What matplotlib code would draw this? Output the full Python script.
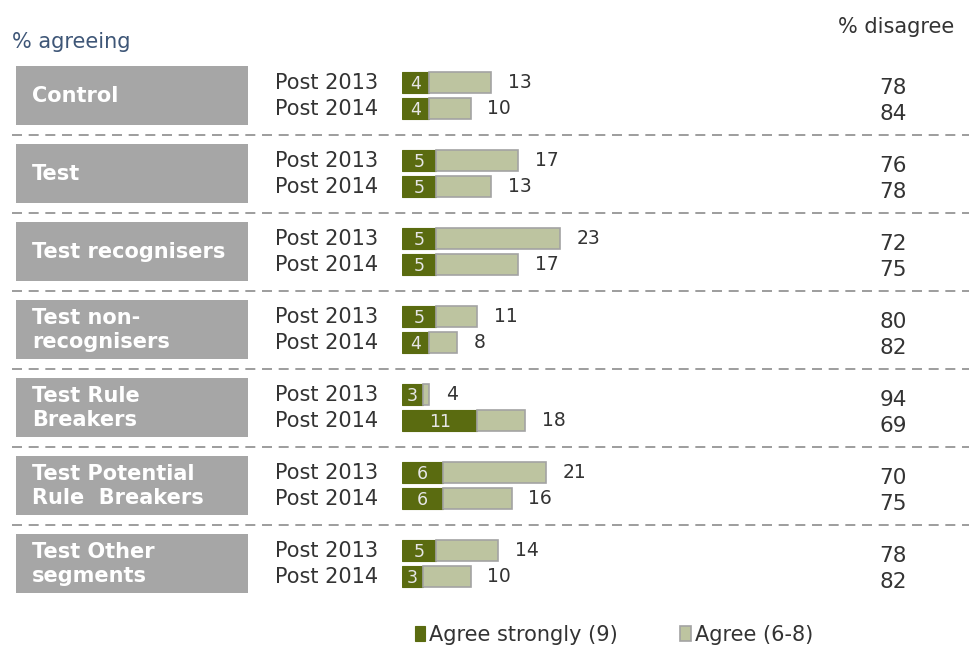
import numpy as np
import matplotlib.pyplot as plt
from matplotlib import transforms
from matplotlib.patches import Rectangle

segments = ['Control', 'Test', 'Test recognisers', 'Test non-\nrecognisers',
            'Test Rule\nBreakers', 'Test Potential\nRule  Breakers', 'Test Other\nsegments']
waves = ['Post 2013', 'Post 2014']

strongly_2013 = [4, 5, 5, 5, 3, 6, 5]
strongly_2014 = [4, 5, 5, 4, 11, 6, 3]
agreeing_2013 = [13, 17, 23, 11, 4, 21, 14]
agreeing_2014 = [10, 13, 17, 8, 18, 16, 10]
disagree_2013 = [78, 76, 72, 80, 94, 70, 78]
disagree_2014 = [84, 78, 75, 82, 69, 75, 82]

dark = '#5a6b10'
light = '#bdc4a0'
edge = '#a3a3a3'
text_col = '#333333'

W, H = 970, 645
fig = plt.figure(figsize=(W / 100, H / 100), dpi=100)

# background axes in pixel units for the furniture
bg = fig.add_axes([0, 0, 1, 1])
bg.set_xlim(0, W)
bg.set_ylim(H, 0)
bg.axis('off')

# bar axes: x = percent, y = row position (3 rows per segment)
px_per_pct = 6.85
x0 = 402
ax = fig.add_axes([x0 / W, 0, 300 / W, 1])
ax.set_xlim(0, 300 / px_per_pct)
row_px = 26
ax.set_ylim((H - 82.5) / row_px, -82.5 / row_px)
ax.axis('off')
ax.patch.set_alpha(0)

n = len(segments)
pos13 = np.arange(n) * 3
pos14 = pos13 + 1
pos = np.concatenate([pos13, pos14])
strong = np.array(strongly_2013 + strongly_2014)
agree = np.array(agreeing_2013 + agreeing_2014)
disagree = disagree_2013 + disagree_2014

bh = 0.78
b1 = ax.barh(pos, strong, height=bh, color=dark, edgecolor=dark, linewidth=0.8,
             label='Agree strongly (9)')
b2 = ax.barh(pos, agree - strong, left=strong, height=bh, color=light,
             edgecolor=edge, linewidth=1.2, label='Agree (6-8)')

for p, s, a in zip(pos, strong, agree):
    ax.text(s / 2, p + 0.05, str(s), ha='center', va='center', fontsize=12.5,
            color='#e6e6e6')
    ax.annotate(str(a), (a, p), xytext=(12, 0), textcoords='offset points',
                ha='left', va='center', fontsize=13.5, color=text_col)

# mixed transform: x in pixels, y in row units
mix = transforms.blended_transform_factory(bg.transData, ax.transData)

for g, name in enumerate(segments):
    c = 3 * g + 0.5
    bg.add_patch(Rectangle((16, c - 1.135), 232, 2.27, transform=mix,
                           facecolor='#a6a6a6', edgecolor='none'))
    bg.text(32, c, name, transform=mix, ha='left', va='center', fontsize=15,
            fontweight='bold', color='white', linespacing=1.25)
    for b, wave in enumerate(waves):
        bg.text(275, 3 * g + b, wave, transform=mix, ha='left', va='center',
                fontsize=15, color=text_col)
    if g < n - 1:
        bg.plot([12, W], [3 * g + 2, 3 * g + 2], transform=mix, color='#8c8c8c',
                lw=1.2, ls=(0, (6, 4)))

for p, d in zip(pos, disagree):
    bg.text(893, p + 0.2, str(d), transform=mix, ha='center', va='center',
            fontsize=15.5, color=text_col)

bg.text(12, 42, '% agreeing', ha='left', va='center', fontsize=15,
        color='#3e5677')
bg.text(896, 27, '% disagree', ha='center', va='center', fontsize=15,
        color=text_col)

fig.legend(handles=[b1, b2], loc='center', bbox_to_anchor=(614 / W, 1 - 635 / H),
           ncol=2, frameon=False, handlelength=0.5, handleheight=0.75,
           handletextpad=0.2, columnspacing=3.0, fontsize=15, labelcolor=text_col)

fig.savefig('out.png', dpi=100)
